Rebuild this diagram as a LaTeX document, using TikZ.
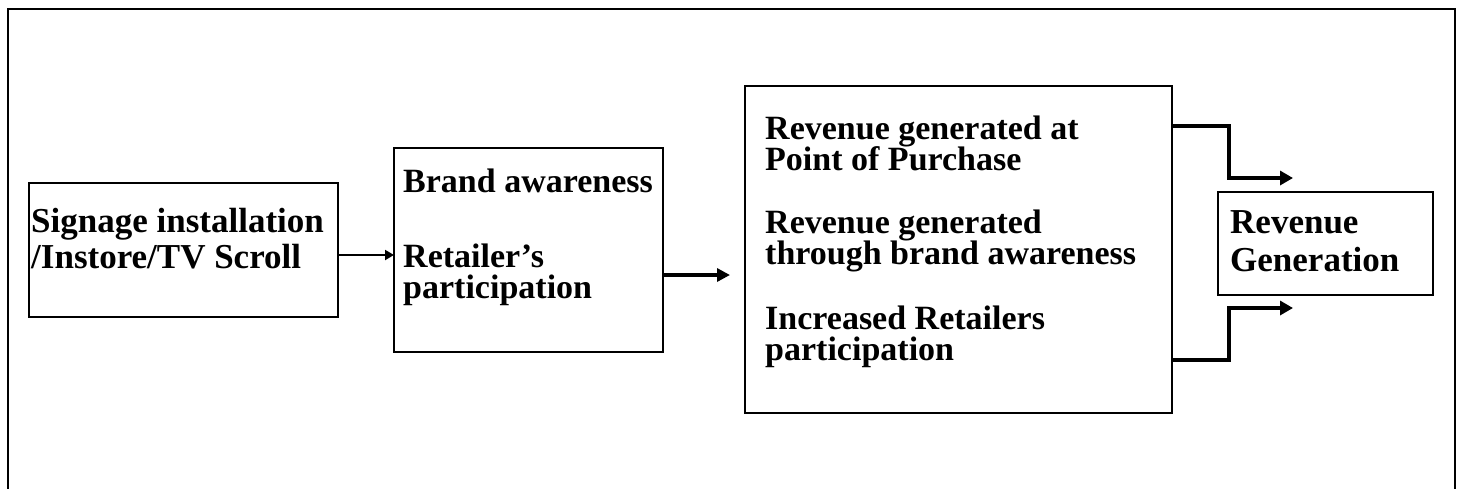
\documentclass[tikz,border=0pt]{standalone}
\usepackage{fontspec}
\setmainfont{Liberation Serif}
\usetikzlibrary{arrows.meta}
\begin{document}
\begin{tikzpicture}[x=1pt,y=-1pt,
  box/.style={draw,line width=1.6pt,inner sep=0pt,outer sep=0pt},
  txt/.style={anchor=base west,inner sep=0pt,text height=23pt,text depth=4pt,font=\fontsize{34}{34}\selectfont\bfseries},
  bigtxt/.style={txt,font=\fontsize{35}{35}\selectfont\bfseries},
  thinarrow/.style={line width=2pt,-{Triangle[length=9pt,width=10pt]}},
  thickarrow/.style={line width=3.2pt,-{Triangle[length=13pt,width=13pt]}},
  elbow/.style={line width=3.5pt,-{Triangle[length=13pt,width=14pt]}}]
\useasboundingbox (0,0) rectangle (1458,488);
\draw[line width=2.4pt] (8,492) -- (8,9) -- (1455,9) -- (1455,492);
% boxes
\node[box,minimum width=309pt,minimum height=134pt,anchor=north west] (b1) at (29,183) {};
\node[box,minimum width=269pt,minimum height=204pt,anchor=north west] (b2) at (394,148) {};
\node[box,minimum width=427pt,minimum height=327pt,anchor=north west] (b3) at (745,86) {};
\node[box,minimum width=215pt,minimum height=103pt,anchor=north west] (b4) at (1218,192) {};
% texts
\node[bigtxt] (t1a) at (31,232) {Signage installation};
\node[bigtxt] (t1b) at (31,268) {/Instore/TV Scroll};
\node[txt] (t2a) at (403,192) {Brand awareness};
\node[txt] (t2b) at (403,267) {Retailer’s};
\node[txt] (t2c) at (403,298) {participation};
\node[txt] (t3a) at (765,139) {Revenue generated at};
\node[txt] (t3b) at (765,170) {Point of Purchase};
\node[txt] (t3c) at (765,233) {Revenue generated};
\node[txt] (t3d) at (765,264) {through brand awareness};
\node[txt] (t3e) at (765,329) {Increased Retailers};
\node[txt] (t3f) at (765,360) {participation};
\node[bigtxt] (t4a) at (1230,233) {Revenue};
\node[bigtxt] (t4b) at (1230,271) {Generation};
% connectors
\coordinate (e2) at (730,275);
\coordinate (e3) at (1293,178);
\coordinate (e4) at (1293,308);
\draw[thinarrow] (b1.east |- 0,255) -- (b2.west |- 0,255);
\draw[thickarrow] (b2.east |- e2) -- (e2);
\draw[elbow] (b3.east |- 0,126) -- (1229,126) -- (1229,178) -- (e3);
\draw[elbow] (b3.east |- 0,360) -- (1229,360) -- (1229,308) -- (e4);
\end{tikzpicture}
\end{document}
